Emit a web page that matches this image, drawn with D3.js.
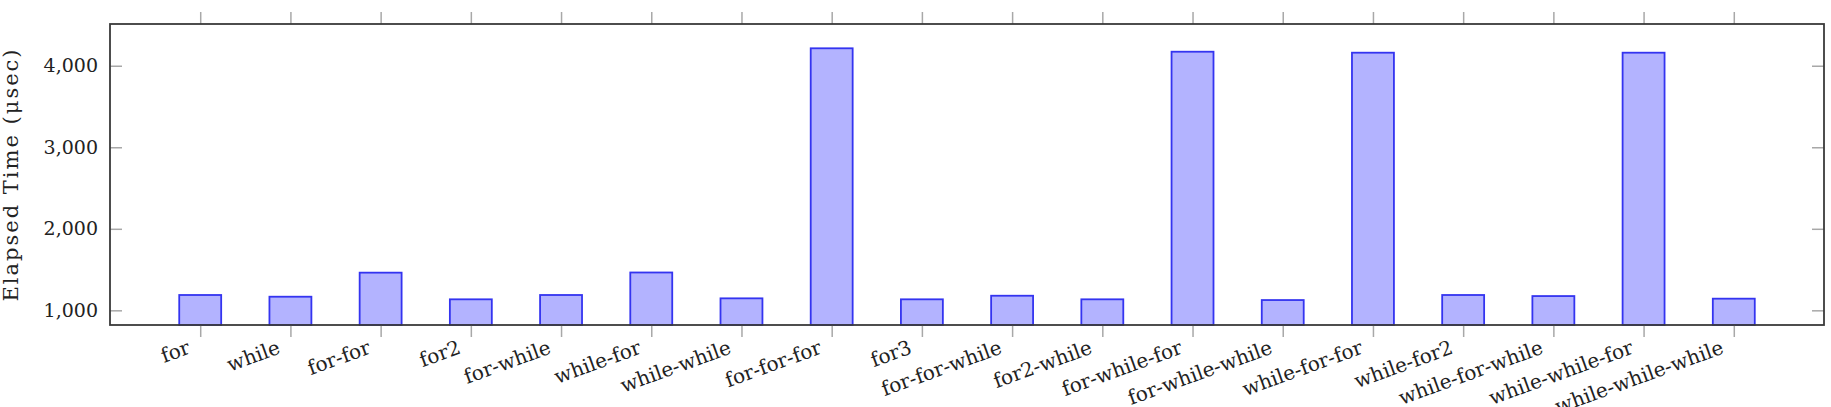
<!DOCTYPE html>
<html>
<head>
<meta charset="utf-8">
<script src="https://d3js.org/d3.v7.min.js"></script>
<style>
  body { margin: 0; background: #fff; }
  text { font-family: "DejaVu Serif", serif; fill: #222; }
</style>
</head>
<body>
<div id="chart"></div>
<script>
// loop variants and elapsed time (usec)
var names = ["for", "while", "for-for", "for2", "for-while", "while-for", "while-while",
  "for-for-for", "for3", "for-for-while", "for2-while", "for-while-for", "for-while-while",
  "while-for-for", "while-for2", "while-for-while", "while-while-for", "while-while-while"]
var times = [1188, 1167, 1462, 1135, 1188, 1464, 1147,
  4214, 1135, 1179, 1135, 4172, 1126,
  4160, 1188, 1175, 4160, 1143]
var yTicks = [1000, 2000, 3000, 4000]
var yMin = 820, yMax = 4512

var width = 1831, height = 407
var margin = {top: 24, right: 7, bottom: 82, left: 110}
var w = width - margin.left - margin.right,
    h = height - margin.top - margin.bottom

var svg = d3.select("#chart").append("svg")
    .attr("width", width)
    .attr("height", height)

var g = svg.append("g")
    .attr("transform", "translate(" + margin.left + "," + margin.top + ")")

var x = d3.scalePoint()
    .domain(names)
    .range([0, w])
    .padding(1)

var y = d3.scaleLinear()
    .domain([yMin, yMax])
    .range([h, 0])

var barW = x.step() * 0.465

// bars
g.selectAll("rect.bar")
    .data(names)
  .enter().append("rect")
    .attr("class", "bar")
    .attr("x", function(d) { return x(d) - barW / 2 })
    .attr("y", function(d, i) { return y(times[i]) })
    .attr("width", barW)
    .attr("height", function(d, i) { return h - y(times[i]) })
    .attr("fill", "#b3b3ff")
    .attr("stroke", "#3434f0")
    .attr("stroke-width", 1.8)

// ticks
var tickColor = "#a8a8a8"

var xBottom = g.append("g")
    .attr("transform", "translate(0," + h + ")")
    .call(d3.axisBottom(x).tickSize(12).tickSizeOuter(0).tickFormat(""))
var xTop = g.append("g")
    .call(d3.axisTop(x).tickSize(12).tickSizeOuter(0).tickFormat(""))
var yLeft = g.append("g")
    .call(d3.axisLeft(y).tickValues(yTicks).tickSize(-12).tickSizeOuter(0).tickPadding(24).tickFormat(d3.format(",")))
var yRight = g.append("g")
    .attr("transform", "translate(" + w + ",0)")
    .call(d3.axisRight(y).tickValues(yTicks).tickSize(-12).tickSizeOuter(0).tickFormat(""))

;[xBottom, xTop, yLeft, yRight].forEach(function(a) {
  a.select(".domain").remove()
  a.selectAll(".tick line").attr("stroke", tickColor).attr("stroke-width", 1.5)
})

yLeft.selectAll(".tick text")
    .style("font-family", "DejaVu Serif")
    .style("font-size", "19px")
    .attr("fill", "#222")
    .attr("x", -12)

// rotated category labels
g.append("g").selectAll("text.xlab")
    .data(names)
  .enter().append("text")
    .attr("class", "xlab")
    .attr("text-anchor", "end")
    .attr("transform", function(d) { return "translate(" + (x(d) - 9) + "," + (h + 28) + ") rotate(-20)" })
    .style("font-size", "20px")
    .text(function(d) { return d })

// frame
g.append("rect")
    .attr("x", 0)
    .attr("y", 0)
    .attr("width", w)
    .attr("height", h)
    .attr("fill", "none")
    .attr("stroke", "#3a3a3a")
    .attr("stroke-width", 1.8)

// y title
svg.append("text")
    .attr("transform", "translate(18," + (margin.top + h / 2) + ") rotate(-90)")
    .attr("text-anchor", "middle")
    .style("font-size", "21px")
    .style("letter-spacing", "2px")
    .text("Elapsed Time (\u03bcsec)")
</script>
</body>
</html>
